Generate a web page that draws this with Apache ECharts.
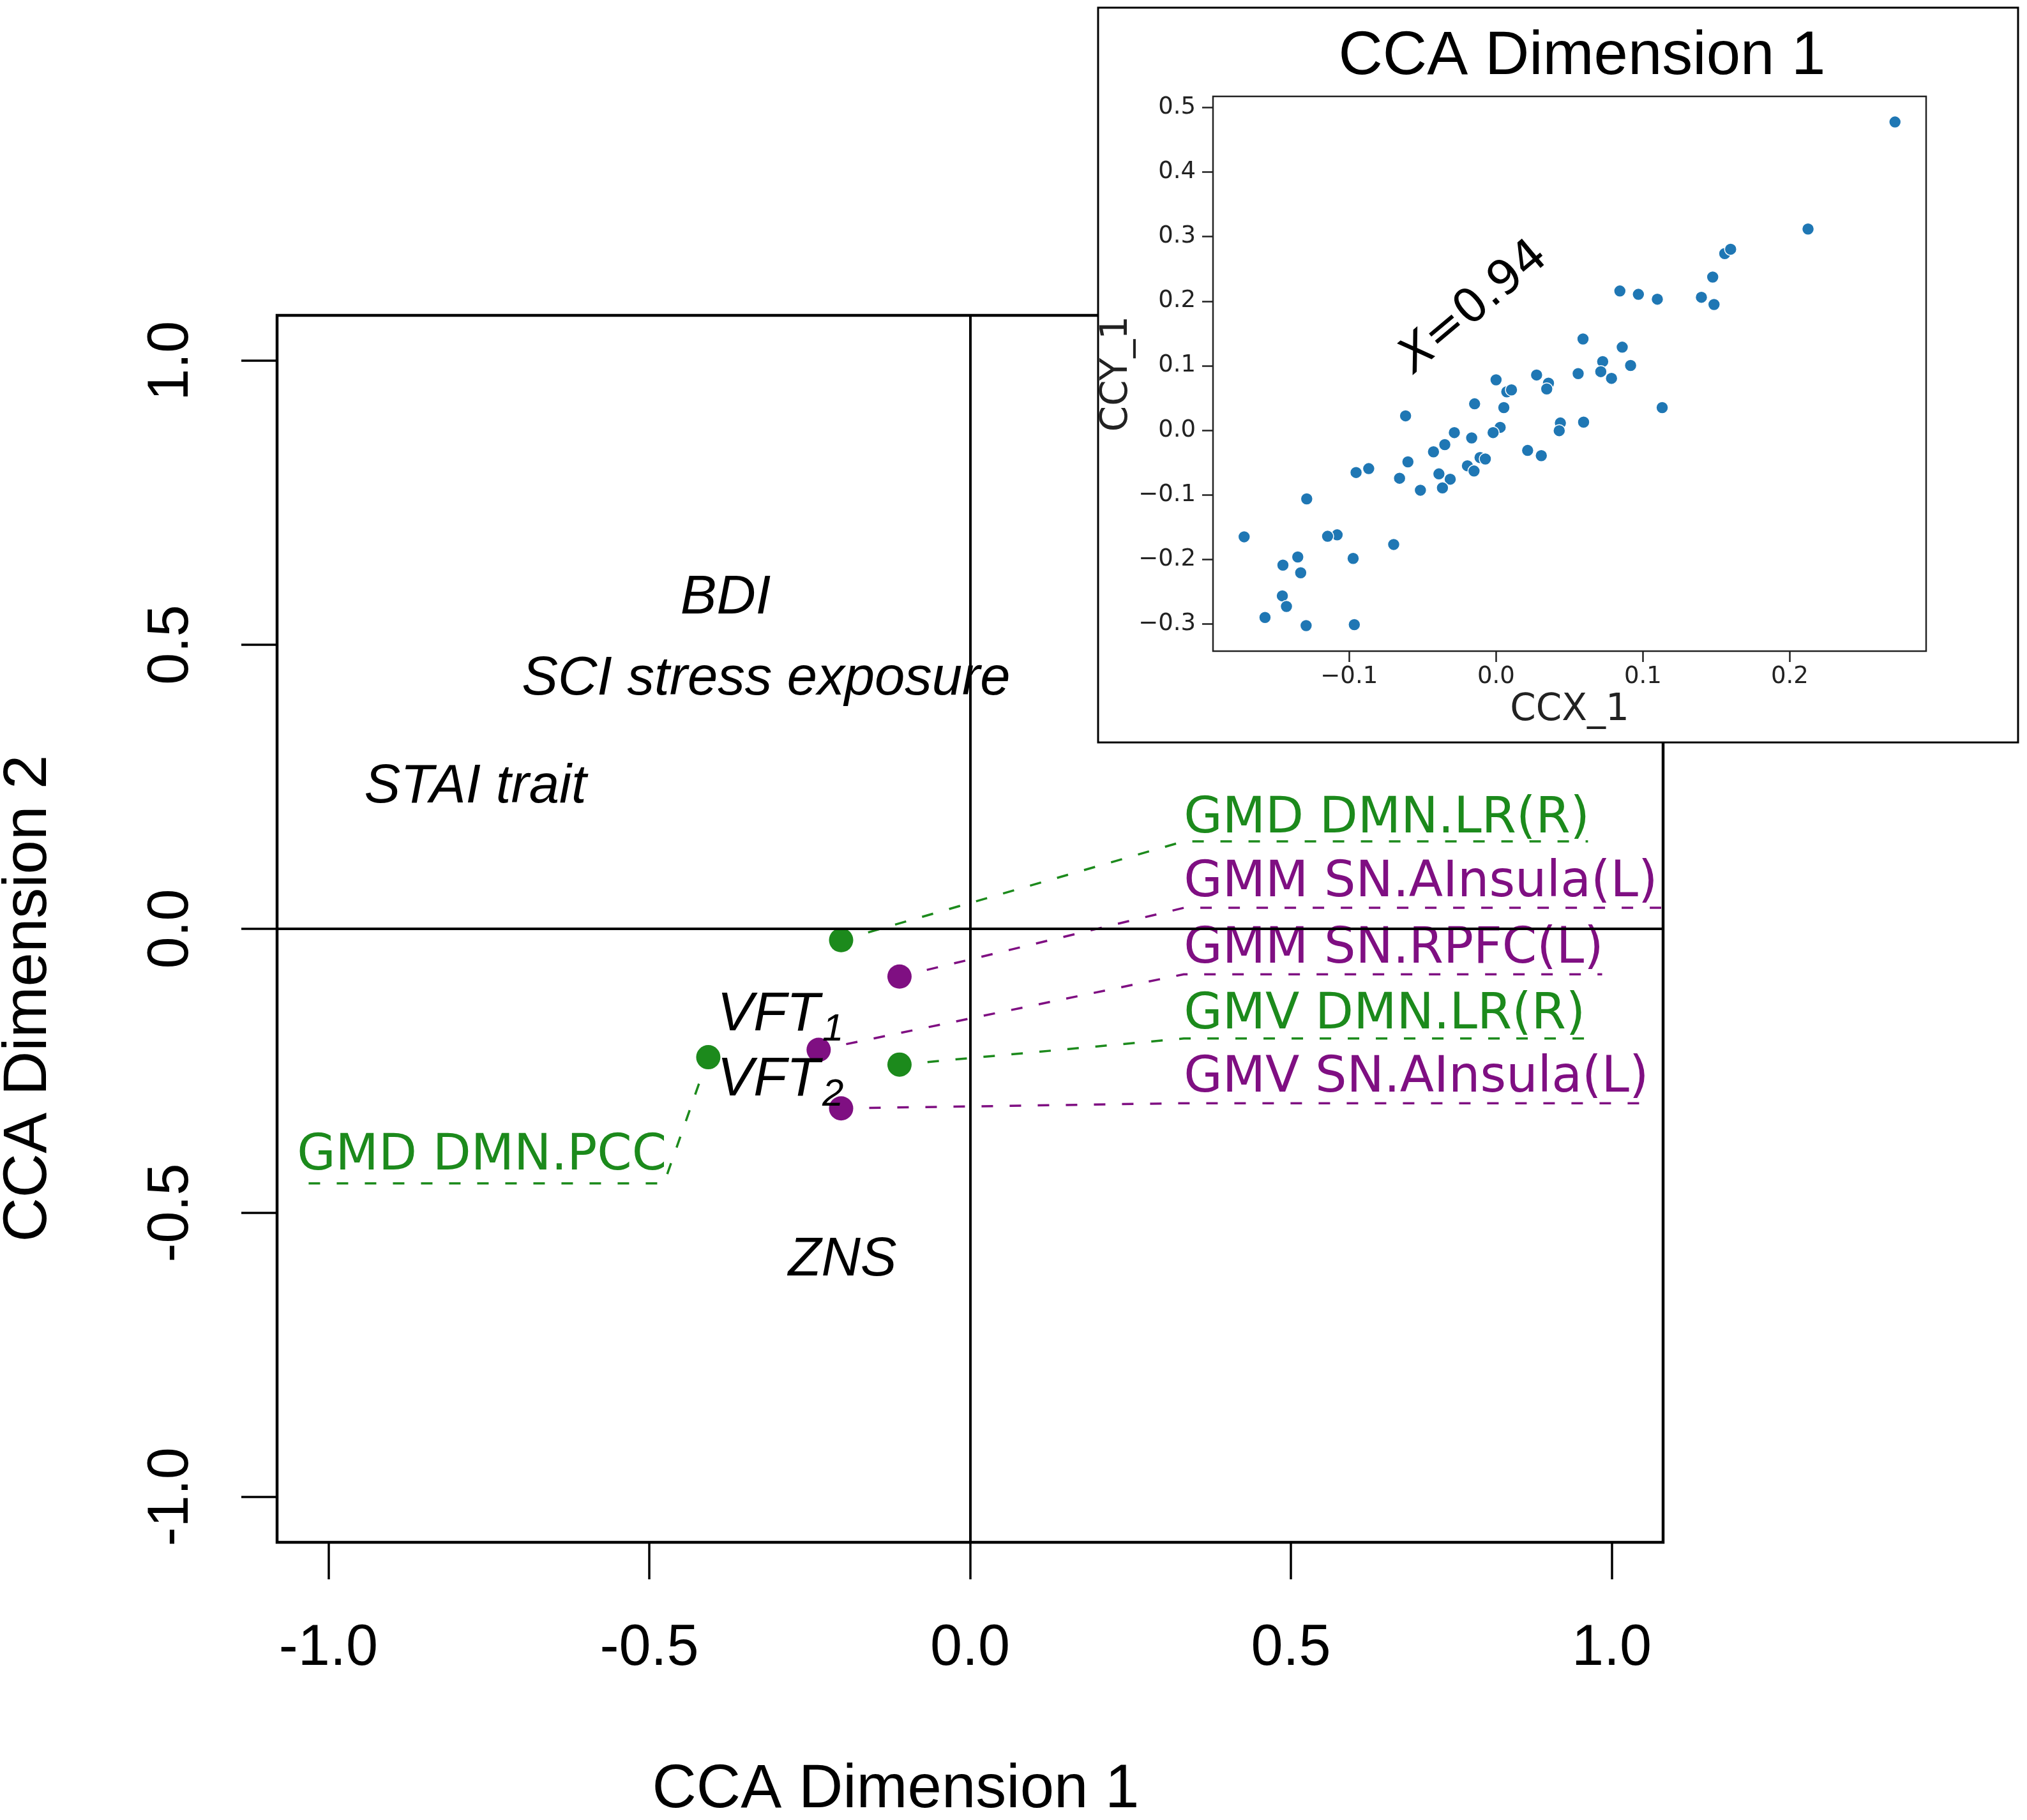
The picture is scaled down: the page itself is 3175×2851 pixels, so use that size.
<!DOCTYPE html>
<html>
<head>
<meta charset="utf-8">
<title>CCA biplot</title>
<script src="https://cdn.jsdelivr.net/npm/echarts@6/dist/echarts.min.js"></script>
<style>
  html, body { margin: 0; padding: 0; background: #fff; }
  #chart { width: 3175px; height: 2851px; }
</style>
</head>
<body>
<div id="chart"></div>
<script>
// main biplot: ticks
const mainTicks = [-1, -0.5, 0, 0.5, 1];

// brain measures (points with labels and dashed leaders)
const brainNames = ['GMD DMN.LR(R)', 'GMM SN.AInsula(L)', 'GMM SN.RPFC(L)', 'GMV DMN.LR(R)', 'GMV SN.AInsula(L)', 'GMD DMN.PCC'];
const brainX = [-0.201, -0.110, -0.236, -0.110, -0.201, -0.408];
const brainY = [-0.020, -0.084, -0.213, -0.239, -0.316, -0.226];
const brainLabelX = [0.333, 0.333, 0.333, 0.333, 0.333, -1.049];
const brainLabelY = [0.192, 0.080, -0.037, -0.152, -0.264, -0.401];
const underlineY = [0.154, 0.037, -0.080, -0.193, -0.307, -0.448];
const elbowX = [0.333, 0.333, 0.333, 0.333, 0.333, -0.477];
const underlineEndX = [0.963, 1.077, 0.985, 0.963, 1.061, -1.049];

// behavioural measures (text only)
const behNames = ['BDI', 'SCI stress exposure', 'STAI trait', 'ZNS'];
const behX = [-0.381, -0.318, -0.771, -0.199];
const behY = [0.582, 0.439, 0.249, -0.584];
const vftNames = ['VFT', 'VFT'];
const vftSubs = ['1', '2'];
const vftX = [-0.394, -0.394];
const vftY = [-0.152, -0.267];

// inset scatter
const insetXTicks = [-0.1, 0, 0.1, 0.2];
const insetYTicks = [-0.3, -0.2, -0.1, 0, 0.1, 0.2, 0.3, 0.4, 0.5];
const ccx = [0.2716, 0.2124, 0.1557, 0.1597, 0.1475, 0.1484, 0.1398, 0.1098, 0.0969, 0.0843,
  0.0592, 0.0859, 0.0726, 0.0916, 0.0713, 0.0786, 0.0559, 0.1131, 0.0596, 0.0438,
  0.0430, 0.0276, 0.0357, 0.0345, 0.0308, 0.0215, 0.0000, 0.0073, 0.0105, 0.0053,
  0.0028, -0.0020, -0.0146, -0.0166, -0.0109, -0.0073, -0.0195, -0.0150, -0.0284, -0.0349,
  -0.0426, -0.0389, -0.0312, -0.0365, -0.0515, -0.0616, -0.0600, -0.0657, -0.0697, -0.0867,
  -0.0953, -0.0973, -0.0965, -0.1082, -0.1147, -0.1289, -0.1350, -0.1330, -0.1451, -0.1455,
  -0.1427, -0.1573, -0.1293, -0.1715];
const ccy = [0.4777, 0.3118, 0.2738, 0.2805, 0.2374, 0.1949, 0.2061, 0.2031, 0.2106, 0.2158,
  0.1414, 0.1287, 0.1064, 0.1004, 0.0908, 0.0804, 0.0878, 0.0350, 0.0126, 0.0112,
  -0.0007, 0.0856, 0.0729, 0.0640, -0.0394, -0.0313, 0.0781, 0.0595, 0.0625, 0.0350,
  0.0045, -0.0037, 0.0409, -0.0119, -0.0424, -0.0446, -0.0551, -0.0632, -0.0037, -0.0223,
  -0.0335, -0.0677, -0.0759, -0.0893, -0.0930, 0.0223, -0.0491, -0.0744, -0.1771, -0.0595,
  -0.0655, -0.1987, -0.3013, -0.1622, -0.1644, -0.1064, -0.1964, -0.2210, -0.2091, -0.2567,
  -0.2731, -0.2902, -0.3028, -0.1652];
const insetNote = { x: -0.015, y: 0.190, text: '=0.94', symbol: 'X' };

const GREEN = '#1c8a1c';
const PURPLE = '#7f0f82';
// salience-network measures purple, default-mode-network green
const colorOf = name => name.includes('SN.') ? PURPLE : GREEN;

const chart = echarts.init(document.getElementById('chart'), null, { renderer: 'canvas' });

const series = [];
const hidden = { color: 'rgba(0,0,0,0)', opacity: 1 };

// dashed leader + underline for each brain label
brainNames.forEach((name, i) => {
  series.push({
    type: 'line',
    xAxisIndex: 0, yAxisIndex: 0,
    data: [[brainX[i], brainY[i]], [elbowX[i], underlineY[i]], [underlineEndX[i], underlineY[i]]],
    symbol: 'none',
    silent: true,
    lineStyle: { color: colorOf(name), width: 3.5, type: [18, 26], opacity: 1 },
    z: 2
  });
});

// zero lines
series.push({
  type: 'scatter',
  xAxisIndex: 0, yAxisIndex: 0,
  data: [],
  silent: true,
  markLine: {
    symbol: 'none',
    silent: true,
    label: { show: false },
    lineStyle: { color: '#000', width: 4, type: 'solid', opacity: 1 },
    data: [{ xAxis: 0 }, { yAxis: 0 }]
  },
  z: 1
});

// brain points
series.push({
  type: 'scatter',
  xAxisIndex: 0, yAxisIndex: 0,
  symbolSize: 38,
  data: brainNames.map((n, i) => ({ value: [brainX[i], brainY[i]], itemStyle: { color: colorOf(n), opacity: 1 } })),
  z: 3
});

// brain labels
series.push({
  type: 'scatter',
  xAxisIndex: 0, yAxisIndex: 0,
  symbolSize: 1,
  itemStyle: hidden,
  data: brainNames.map((n, i) => ({
    name: n,
    value: [brainLabelX[i], brainLabelY[i]],
    label: { color: colorOf(n) }
  })),
  label: {
    show: true, position: 'inside', align: 'left', verticalAlign: 'middle',
    formatter: p => p.name,
    fontFamily: 'DejaVu Sans', fontSize: 78
  },
  z: 4
});

// behavioural labels
series.push({
  type: 'scatter',
  xAxisIndex: 0, yAxisIndex: 0,
  symbolSize: 1,
  itemStyle: hidden,
  data: behNames.map((n, i) => ({ name: n, value: [behX[i], behY[i]] })),
  label: {
    show: true, position: 'inside', align: 'center', verticalAlign: 'middle',
    formatter: p => p.name,
    fontFamily: 'Liberation Sans', fontStyle: 'italic', fontSize: 85, color: '#000'
  },
  z: 4
});

// VFT labels with subscripts
series.push({
  type: 'scatter',
  xAxisIndex: 0, yAxisIndex: 0,
  symbolSize: 1,
  itemStyle: hidden,
  data: vftNames.map((n, i) => ({ name: n, value: [vftX[i], vftY[i]], sub: vftSubs[i] })),
  label: {
    show: true, position: 'inside', align: 'left', verticalAlign: 'middle',
    formatter: p => '{m|' + p.name + '}{s|' + p.data.sub + '}',
    rich: {
      m: { fontFamily: 'Liberation Sans', fontStyle: 'italic', fontSize: 85, lineHeight: 100, color: '#000' },
      s: { fontFamily: 'Liberation Sans', fontStyle: 'italic', fontSize: 60, lineHeight: 60, padding: [46, 0, 0, 4], color: '#000' }
    }
  },
  z: 4
});

// inset scatter
series.push({
  type: 'scatter',
  xAxisIndex: 1, yAxisIndex: 1,
  symbolSize: 19,
  data: ccx.map((x, i) => [x, ccy[i]]),
  itemStyle: { color: '#1f77b4', borderColor: '#fff', borderWidth: 1.5, opacity: 1 },
  z: 22
});

// inset annotation
series.push({
  type: 'scatter',
  xAxisIndex: 1, yAxisIndex: 1,
  symbolSize: 1,
  itemStyle: hidden,
  data: [{ value: [insetNote.x, insetNote.y] }],
  label: {
    show: true, position: 'inside', align: 'center', verticalAlign: 'middle', rotate: 40,
    formatter: '{i|' + insetNote.symbol + '}{n|' + insetNote.text + '}',
    rich: {
      i: { fontFamily: 'DejaVu Sans', fontStyle: 'italic', fontSize: 74, color: '#000' },
      n: { fontFamily: 'DejaVu Sans', fontSize: 74, color: '#000' }
    }
  },
  z: 23
});

const fmtMain = v => v.toFixed(1);
const fmtInset = v => (v < 0 ? '\u2212' : '') + Math.abs(v).toFixed(1);

const option = {
  animation: false,
  backgroundColor: '#fff',
  grid: [
    { left: 434, top: 494, width: 2171, height: 1922, show: true, borderColor: '#000', borderWidth: 4.5, backgroundColor: 'transparent', z: 0 },
    { left: 1900, top: 151, width: 1117, height: 869, show: true, borderColor: '#222', borderWidth: 2.5, backgroundColor: '#fff', z: 20 }
  ],
  xAxis: [
    {
      gridIndex: 0, type: 'value', min: -1.08, max: 1.08,
      axisLine: { show: false, onZero: false }, splitLine: { show: false },
      axisTick: { show: true, inside: false, length: 58, customValues: mainTicks, lineStyle: { color: '#000', width: 3.5 } },
      axisLabel: { show: true, customValues: mainTicks, formatter: fmtMain, margin: 122, fontFamily: 'Liberation Sans', fontSize: 90, color: '#000' }
    },
    {
      gridIndex: 1, type: 'value', min: -0.1927, max: 0.2928, z: 21,
      axisLine: { show: false, onZero: false }, splitLine: { show: false },
      axisTick: { show: true, inside: false, length: 17, customValues: insetXTicks, lineStyle: { color: '#222', width: 2.5 } },
      axisLabel: { show: true, customValues: insetXTicks, formatter: fmtInset, margin: 22, fontFamily: 'DejaVu Sans', fontSize: 37, color: '#222' },
      name: 'CCX_1', nameLocation: 'middle', nameGap: 64,
      nameTextStyle: { fontFamily: 'DejaVu Sans', fontSize: 58, color: '#222' }
    }
  ],
  yAxis: [
    {
      gridIndex: 0, type: 'value', min: -1.08, max: 1.08,
      axisLine: { show: false, onZero: false }, splitLine: { show: false },
      axisTick: { show: true, inside: false, length: 56, customValues: mainTicks, lineStyle: { color: '#000', width: 3.5 } },
      axisLabel: { show: true, customValues: mainTicks, formatter: fmtMain, rotate: 90, margin: 120, fontFamily: 'Liberation Sans', fontSize: 90, color: '#000' }
    },
    {
      gridIndex: 1, type: 'value', min: -0.3424, max: 0.5174, z: 21,
      axisLine: { show: false, onZero: false }, splitLine: { show: false },
      axisTick: { show: true, inside: false, length: 17, customValues: insetYTicks, lineStyle: { color: '#222', width: 2.5 } },
      axisLabel: { show: true, customValues: insetYTicks, formatter: fmtInset, margin: 27, fontFamily: 'DejaVu Sans', fontSize: 37, color: '#222' },
      name: 'CCY_1', nameLocation: 'middle', nameGap: 105,
      nameTextStyle: { fontFamily: 'DejaVu Sans', fontSize: 58, color: '#222' }
    }
  ],
  graphic: {
    elements: [
      {
        type: 'rect', z: 10, silent: true,
        shape: { x: 1720, y: 12, width: 1441, height: 1151 },
        style: { fill: '#fff', stroke: '#000', lineWidth: 3 }
      },
      {
        type: 'text', z: 21, silent: true, x: 2478, y: 90,
        style: { text: 'CCA Dimension 1', font: '96px "Liberation Sans"', fill: '#000', align: 'center', verticalAlign: 'middle' }
      },
      {
        type: 'text', z: 5, silent: true, x: 1403, y: 2805,
        style: { text: 'CCA Dimension 1', font: '96px "Liberation Sans"', fill: '#000', align: 'center', verticalAlign: 'middle' }
      },
      {
        type: 'text', z: 5, silent: true, x: 46, y: 1564, rotation: Math.PI / 2,
        style: { text: 'CCA Dimension 2', font: '96px "Liberation Sans"', fill: '#000', align: 'center', verticalAlign: 'middle' }
      }
    ]
  },
  series: series
};

chart.setOption(option);
</script>
</body>
</html>
